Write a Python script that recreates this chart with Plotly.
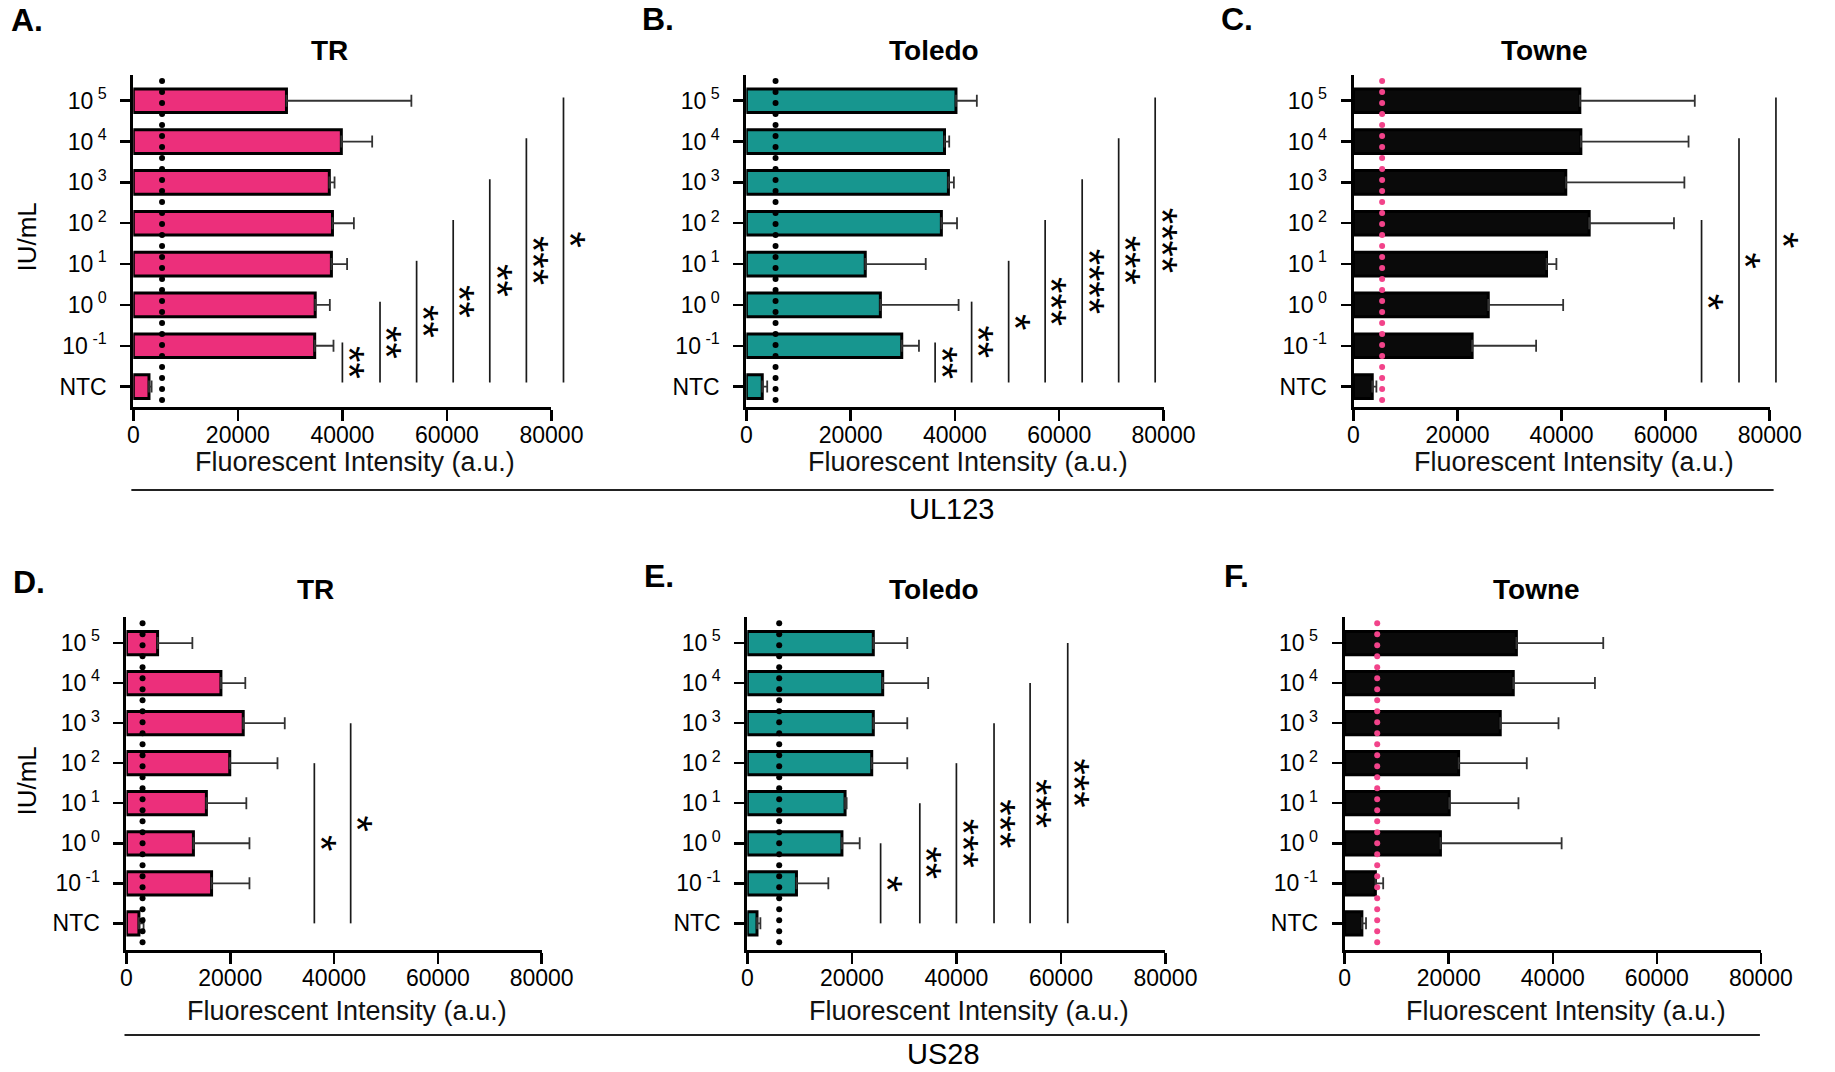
import numpy as np
import plotly.graph_objects as go

W, H = 1835, 1072
FONT = "Liberation Sans, Arial, Helvetica, sans-serif"

# ---------------- data ----------------
categories = ["NTC", "10^-1", "10^0", "10^1", "10^2", "10^3", "10^4", "10^5"]
tick_labels = ["NTC", "10<sup> -1</sup>", "10<sup> 0</sup>", "10<sup> 1</sup>", "10<sup> 2</sup>",
               "10<sup> 3</sup>", "10<sup> 4</sup>", "10<sup> 5</sup>"]
x_ticks = [0, 20000, 40000, 60000, 80000]

# UL123 (order: NTC, 10^-1 ... 10^5)
tr_ul123_mean = [3000, 34700, 34800, 37900, 38100, 37500, 39800, 29300]
tr_ul123_err = [500, 3600, 2800, 3000, 4100, 1000, 5900, 23900]
toledo_ul123_mean = [3050, 29800, 25700, 22800, 37400, 38750, 38000, 40200]
toledo_ul123_err = [950, 3300, 15000, 11600, 3000, 1050, 900, 4000]
towne_ul123_mean = [3600, 22800, 25900, 37100, 45300, 40800, 43700, 43500]
towne_ul123_err = [800, 12300, 14400, 1900, 16300, 22800, 20700, 22100]

# US28
tr_us28_mean = [2400, 16400, 12900, 15400, 19900, 22500, 18200, 6000]
tr_us28_err = [900, 7300, 10800, 7700, 9200, 8000, 4700, 6700]
toledo_us28_mean = [1850, 9400, 18100, 18700, 23800, 24100, 25900, 24100]
toledo_us28_err = [650, 6100, 3400, 300, 6800, 6500, 8700, 6500]
towne_us28_mean = [3300, 5900, 18400, 20100, 21900, 29900, 32400, 33000]
towne_us28_err = [800, 1500, 23300, 13300, 13100, 11200, 15700, 16700]

# detection thresholds (dotted lines)
thresholds = [5500, 5600, 5500, 3100, 6100, 6250]

# significance brackets: x position, top category index (from NTC), label
sig_a_x = [40000, 47200, 54200, 61200, 68200, 75200, 82300]
sig_a_top = [1, 2, 3, 4, 5, 6, 7]
sig_a_lbl = ["**", "**", "**", "**", "**", "***", "*"]
sig_b_x = [36200, 43200, 50300, 57300, 64400, 71400, 78400]
sig_b_top = [1, 2, 3, 4, 5, 6, 7]
sig_b_lbl = ["**", "**", "*", "***", "****", "***", "****"]
sig_c_x = [66900, 74100, 81200]
sig_c_top = [4, 6, 7]
sig_c_lbl = ["*", "*", "*"]
sig_d_x = [36200, 43200]
sig_d_top = [4, 5]
sig_d_lbl = ["*", "*"]
sig_e_x = [25500, 33000, 40000, 47200, 54100, 61300]
sig_e_top = [2, 3, 4, 5, 6, 7]
sig_e_lbl = ["*", "**", "***", "***", "***", "***"]

letters = ["A.", "B.", "C.", "D.", "E.", "F."]
strains = ["TR", "Toledo", "Towne", "TR", "Toledo", "Towne"]
genes = ["UL123", "US28"]

# ---------------- styles / layout ----------------
PINK = "#EC2F7B"
TEAL = "#17968F"
BLACK = "#0A0A0A"
DOTPINK = "#F2438A"

top_row = dict(top=75, bot=407, yr=[-0.5, 7.63], lo=0.1, hi=0.08, dots=(-0.33, 7.68), xtitle=462)
bot_row = dict(top=617, bot=950, yr=[-0.665, 7.65], lo=0.0, hi=0.0, dots=(-0.47, 7.68), xtitle=1011)

panels = [
    dict(mean=tr_ul123_mean, err=tr_ul123_err, fill=PINK, dot="black", x0=130, x1=557, row=top_row,
         sig=(sig_a_x, sig_a_top, sig_a_lbl), title_x=330, letter_x=3, letter_y=20, title_y=50),
    dict(mean=toledo_ul123_mean, err=toledo_ul123_err, fill=TEAL, dot="black", x0=756, x1=1182, row=top_row,
         sig=(sig_b_x, sig_b_top, sig_b_lbl), title_x=948, letter_x=647, letter_y=19, title_y=50),
    dict(mean=towne_ul123_mean, err=towne_ul123_err, fill=BLACK, dot=DOTPINK, x0=1376, x1=1801, row=top_row,
         sig=(sig_c_x, sig_c_top, sig_c_lbl), title_x=1571, letter_x=1239, letter_y=19, title_y=50),
    dict(mean=tr_us28_mean, err=tr_us28_err, fill=PINK, dot="black", x0=123, x1=547, row=bot_row,
         sig=(sig_d_x, sig_d_top, sig_d_lbl), title_x=316, letter_x=5, letter_y=582, title_y=589),
    dict(mean=toledo_us28_mean, err=toledo_us28_err, fill=TEAL, dot="black", x0=757, x1=1184, row=bot_row,
         sig=(sig_e_x, sig_e_top, sig_e_lbl), title_x=948, letter_x=649, letter_y=576, title_y=589),
    dict(mean=towne_us28_mean, err=towne_us28_err, fill=BLACK, dot=DOTPINK, x0=1367, x1=1792, row=bot_row,
         sig=None, title_x=1563, letter_x=1242, letter_y=576, title_y=589),
]


def px(xp):
    return xp / W


def py(yp):
    return 1 - yp / H


fig = go.Figure()
layout = dict(
    width=W, height=H, margin=dict(l=0, r=0, t=0, b=0),
    paper_bgcolor="white", plot_bgcolor="rgba(0,0,0,0)",
    showlegend=False, font=dict(family=FONT, color="black"),
)
annotations = []
shapes = []
ypos = list(range(len(categories)))
extra = 6

for i, p in enumerate(panels, start=1):
    row = p["row"]
    xa, ya = f"x{i}", f"y{i}"
    ncat = len(categories)
    fig.add_trace(go.Bar(
        x=p["mean"], y=ypos, orientation="h", width=0.58,
        marker=dict(color=p["fill"], line=dict(color="black", width=3)),
        error_x=dict(type="data", symmetric=False, array=p["err"], arrayminus=[0] * ncat,
                     color="#333333", thickness=1.8, width=6),
        xaxis=xa, yaxis=ya,
    ))
    # dotted threshold line
    ppc = (row["bot"] - row["top"]) / (row["yr"][1] - row["yr"][0])
    step = 11.0 / ppc
    yd = np.arange(row["dots"][0], row["dots"][1] + 1e-6, step)
    fig.add_trace(go.Scatter(
        x=[thresholds[i - 1]] * len(yd), y=yd, mode="markers",
        marker=dict(size=6, color=p["dot"], line=dict(width=0)),
        cliponaxis=False, xaxis=xa, yaxis=ya, hoverinfo="skip",
    ))
    layout[f"xaxis{i}"] = dict(
        domain=[px(p["x0"]), px(p["x1"])], range=[0, 80000], anchor=ya,
        showline=True, linewidth=3, linecolor="black", ticks="outside", ticklen=11,
        tickwidth=2.5, tickcolor="black", tickvals=x_ticks, tickformat="d",
        tickfont=dict(size=23, family=FONT, color="black"), showgrid=False, zeroline=False,
        ticklabelstandoff=-6,
    )
    layout[f"yaxis{i}"] = dict(
        domain=[py(row["bot"]), py(row["top"])], range=row["yr"], anchor=xa,
        showline=True, linewidth=3, linecolor="black", ticks="outside", ticklen=10,
        tickwidth=2.5, tickcolor="black", tickvals=ypos, ticktext=tick_labels,
        tickfont=dict(size=23, family=FONT, color="black"), showgrid=False, zeroline=False,
        ticklabelstandoff=9,
    )
    # significance brackets on an extended, hidden axis with the same scale
    if p["sig"] is not None:
        extra += 1
        xe = f"x{extra}"
        right = min(p["x0"] + (p["x1"] - p["x0"]) * 1.13, W)
        rng = 80000 * (right - p["x0"]) / (p["x1"] - p["x0"])
        layout[f"xaxis{extra}"] = dict(domain=[px(p["x0"]), px(right)], range=[0, rng],
                                        anchor=ya, visible=False)
        sx, stop, slbl = p["sig"]
        lx, ly = [], []
        for xv, tv in zip(sx, stop):
            lx += [xv, xv, None]
            ly += [0 + row["lo"], tv + row["hi"], None]
        fig.add_trace(go.Scatter(x=lx, y=ly, mode="lines", line=dict(color="#1a1a1a", width=1.7),
                                 xaxis=xe, yaxis=ya, hoverinfo="skip"))
        for xv, tv, lb in zip(sx, stop, slbl):
            annotations.append(dict(
                x=xv, y=(row["lo"] + tv + row["hi"]) / 2, xref=xe, yref=ya, text=lb,
                textangle=90, showarrow=False, xshift=7, xanchor="center", yanchor="middle",
                font=dict(size=42, family=FONT, color="black"),
            ))
    # panel letter, title, x-axis title
    annotations.append(dict(x=px(p["letter_x"]), y=py(p["letter_y"]), xref="paper", yref="paper",
                            text=f"<b>{letters[i - 1]}</b>", showarrow=False, xanchor="left",
                            yanchor="middle", font=dict(size=32, family=FONT, color="black")))
    annotations.append(dict(x=px(p["title_x"]), y=py(p["title_y"]), xref="paper", yref="paper",
                            text=f"<b>{strains[i - 1]}</b>", showarrow=False, xanchor="center",
                            yanchor="middle", font=dict(size=28, family=FONT, color="black")))
    annotations.append(dict(x=px((p["x0"] + p["x1"]) / 2 + 13), y=py(row["xtitle"]), xref="paper",
                            yref="paper", text="Fluorescent Intensity (a.u.)", showarrow=False,
                            xanchor="center", yanchor="middle",
                            font=dict(size=27, family=FONT, color="#111111")))

# y-axis titles
for yc in (237, 781):
    annotations.append(dict(x=px(21), y=py(yc), xref="paper", yref="paper", text="IU/mL",
                            textangle=-90, showarrow=False, xanchor="center", yanchor="middle",
                            font=dict(size=26, family=FONT, color="black")))

# gene separators
for (yl, xl0, xl1, gx, gy, gname, yanc) in [(490, 128, 1805, 966, 509, genes[0], "middle"),
                                            (1035, 121, 1791, 957, 1071, genes[1], "bottom")]:
    shapes.append(dict(type="line", xref="paper", yref="paper", x0=px(xl0), x1=px(xl1),
                       y0=py(yl), y1=py(yl), line=dict(color="#222222", width=2)))
    annotations.append(dict(x=px(gx), y=py(gy), xref="paper", yref="paper", text=gname,
                            showarrow=False, xanchor="center", yanchor=yanc, borderpad=0,
                            font=dict(size=29, family=FONT, color="black")))

layout["annotations"] = annotations
layout["shapes"] = shapes
fig.update_layout(**layout)
fig.write_html("out.html", config={"displayModeBar": False, "staticPlot": True},
               post_script="document.body.style.margin='0';document.body.style.overflow='hidden';")
